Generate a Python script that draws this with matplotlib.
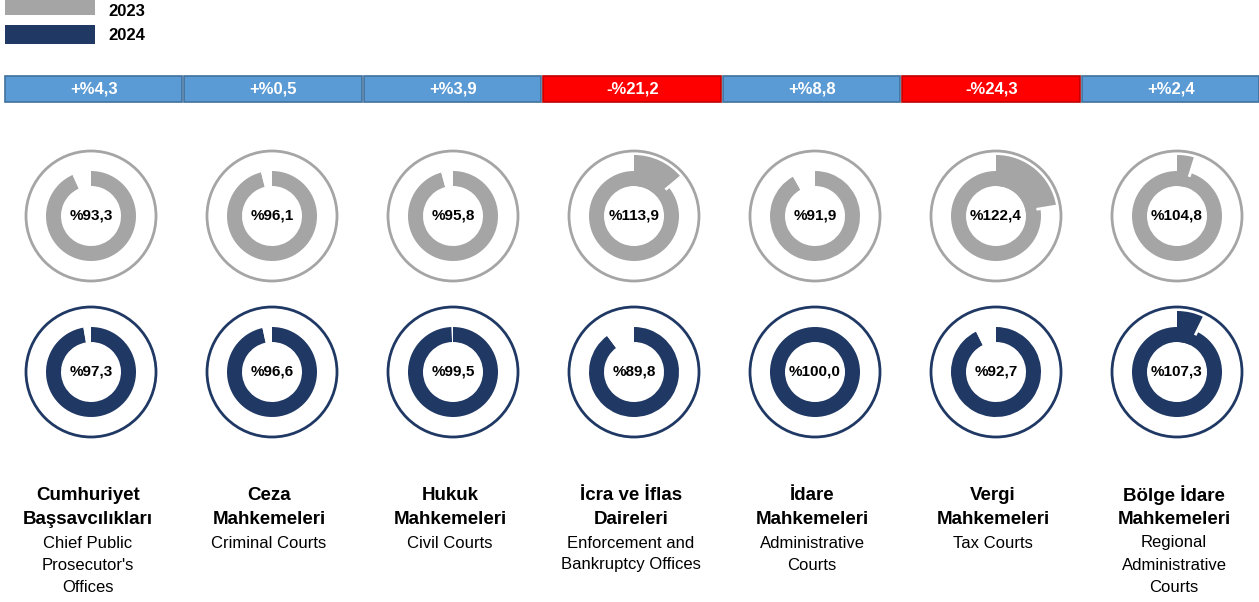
import numpy as np
import matplotlib.pyplot as plt
from matplotlib.patches import Circle, Rectangle

plt.rcParams['font.family'] = ['Liberation Sans', 'DejaVu Sans']

# data
names_tr = [["Cumhuriyet", "Başsavcılıkları"], ["Ceza", "Mahkemeleri"],
            ["Hukuk", "Mahkemeleri"], ["İcra ve İflas", "Daireleri"],
            ["İdare", "Mahkemeleri"], ["Vergi", "Mahkemeleri"],
            ["Bölge İdare", "Mahkemeleri"]]
names_en = [["Chief Public", "Prosecutor's", "Offices"], ["Criminal Courts"],
            ["Civil Courts"], ["Enforcement and", "Bankruptcy Offices"],
            ["Administrative", "Courts"], ["Tax Courts"],
            ["Regional", "Administrative", "Courts"]]
rate_2023 = [93.3, 96.1, 95.8, 113.9, 91.9, 122.4, 104.8]
rate_2024 = [97.3, 96.6, 99.5, 89.8, 100.0, 92.7, 107.3]
change = [4.3, 0.5, 3.9, -21.2, 8.8, -24.3, 2.4]

GREY = '#A5A5A5'
NAVY = '#1F3864'
BLUE = '#5B9BD5'
RED = '#FF0000'

W, H = 1259, 602
fig = plt.figure(figsize=(W / 100, H / 100), dpi=100)
ax = fig.add_axes([0, 0, 1, 1])


def Y(y):
    return H - y


def fmt(v):
    return ('%.1f' % abs(v)).replace('.', ',')


# legend
ax.add_patch(Rectangle((5, Y(15)), 90, 15, color=GREY, lw=0))
ax.add_patch(Rectangle((5, Y(44)), 90, 19, color=NAVY, lw=0))
ax.text(108, Y(11), '2023', fontsize=12, fontweight='bold', va='center')
ax.text(108, Y(35), '2024', fontsize=12, fontweight='bold', va='center')

# header bars
bar_x = [5 + 88.75 + 179.5 * i for i in range(len(change))]
bar_colors = [BLUE if c >= 0 else RED for c in change]
edge_colors = ['#41719C' if c >= 0 else '#C00000' for c in change]
ax.bar(bar_x, 26, bottom=Y(102), width=177.5, color=bar_colors,
       edgecolor=edge_colors, linewidth=1.2)
for x, c in zip(bar_x, change):
    sign = '+' if c >= 0 else '-'
    ax.text(x, Y(89), sign + '%' + fmt(c), color='white', fontsize=12,
            fontweight='bold', ha='center', va='center')


def donut(cx, cy, v, color):
    ax.add_patch(Circle((cx, cy), 65, fill=False, ec=color, lw=2))
    inner = min(v, 100)
    ax.pie([inner, 100 - inner], center=(cx, cy), radius=45, startangle=90,
           counterclock=False, colors=[color, 'white'],
           wedgeprops=dict(width=15, linewidth=0))
    if v > 100:
        ax.pie([v - 100, 200 - v], center=(cx, cy), radius=61, startangle=90,
               counterclock=False, colors=[color, 'none'],
               wedgeprops=dict(width=31, linewidth=0))
        # small white notch where the excess slice ends
        a = np.deg2rad(90 - 3.6 * (v - 100))
        r = np.array([41, 62])
        ax.plot(cx + r * np.cos(a), cy + r * np.sin(a), color='white',
                lw=2, solid_capstyle='butt')
    ax.text(cx, cy, '%' + fmt(v), fontsize=11, fontweight='bold',
            ha='center', va='center')


centers = [91 + 181 * i for i in range(len(rate_2023))]
for i, cx in enumerate(centers):
    donut(cx, Y(216), rate_2023[i], GREY)
    donut(cx, Y(372), rate_2024[i], NAVY)

    lx = cx - 3
    y = 495
    for line in names_tr[i]:
        ax.text(lx, Y(y), line, fontsize=13.5, fontweight='bold',
                ha='center', va='center')
        y += 24
    for line in names_en[i]:
        ax.text(lx, Y(y), line, fontsize=12, ha='center', va='center')
        y += 22

ax.set_xlim(0, W)
ax.set_ylim(0, H)
ax.axis('off')

fig.savefig('out.png', dpi=100)
